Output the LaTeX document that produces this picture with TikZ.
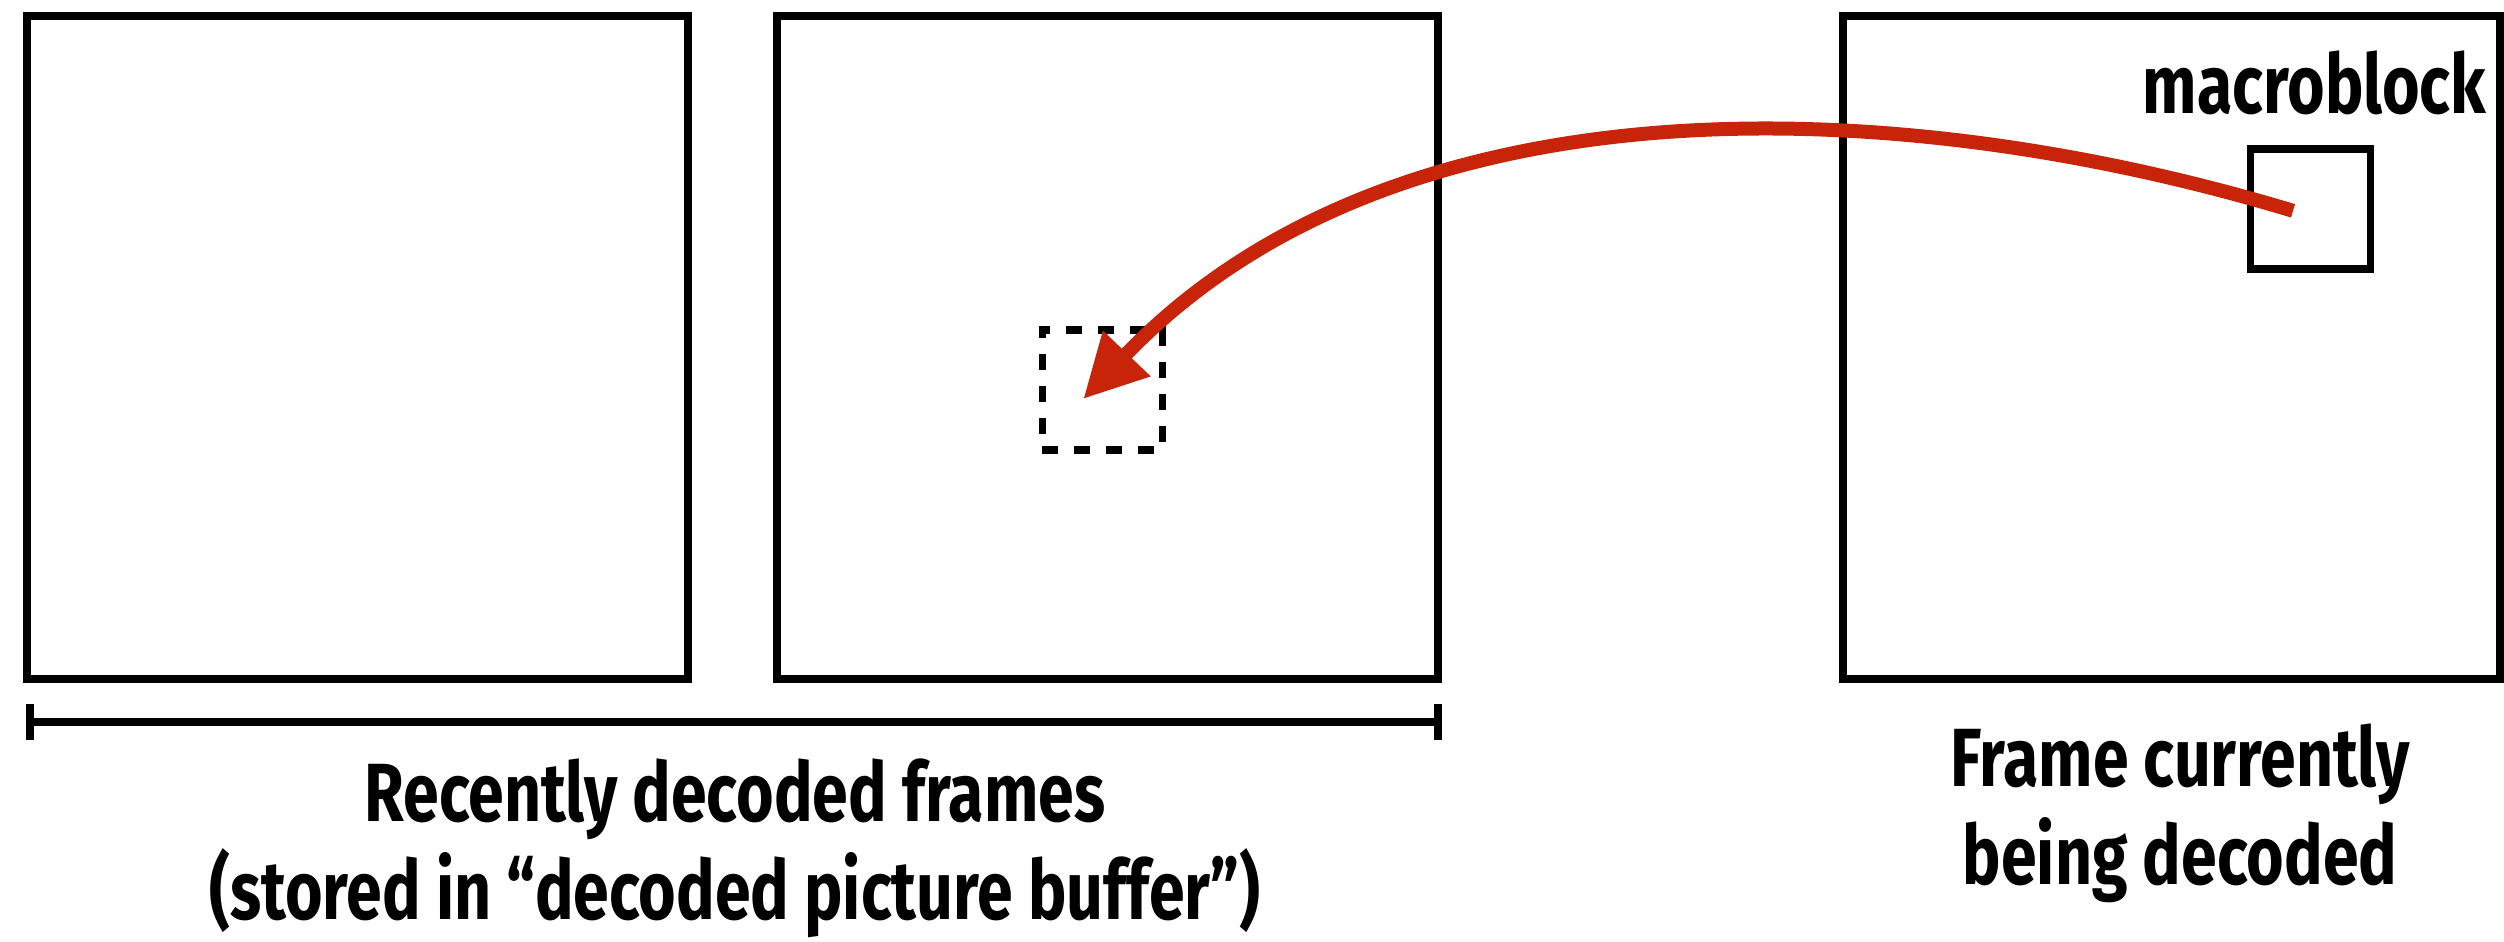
\documentclass[tikz,border=0pt]{standalone}
\usepackage{fontspec}
\setmainfont{Fira Sans}[FakeStretch=0.78]
\usepackage{xcolor}
\definecolor{mvred}{RGB}{200, 36, 10}
\usetikzlibrary{arrows.meta}
\tikzset{
  % Frames
  framebox/.style = {draw, line width=0.08cm, inner sep=0pt,
                     minimum width=6.61cm, minimum height=6.635cm},
  % Blocks
  blockbox/.style = {draw, line width=0.075cm, inner sep=0pt, minimum size=1.2cm},
  refbox/.style   = {blockbox, dash pattern=on 0.16cm off 0.16cm},
  % Arrows and spans
  mvarrow/.style  = {-{Triangle[length=0.63cm, width=0.62cm]}, line width=0.14cm, mvred},
  spanline/.style = {{Bar[width=0.36cm]}-{Bar[width=0.36cm]}, line width=0.08cm},
  % Labels
  lab/.style      = {font=\bfseries\fontsize{23.5}{28}\selectfont, inner sep=0pt, align=center},
}
\begin{document}
\begin{tikzpicture}
  \useasboundingbox (0,0) rectangle (25.04,9.42);
  % Frames
  \node[framebox] (frmA) at (3.57,5.9425) {};
  \node[framebox] (frmB) at (11.07,5.9425) {};
  \node[framebox, minimum width=6.57cm] (frmC) at (21.715,5.9425) {};
  % Blocks
  \node[refbox] (refblk) at (11.0225,5.52) {};
  \node[blockbox] (mblk) at (23.107,7.3315) {};
  \node[lab, anchor=base east] (mblab) at (24.87,8.28) {macroblock};
  % Motion vector
  \coordinate (mvstart) at ([shift={(-0.177,-0.02)}]mblk.center);
  \coordinate (mvend) at ([shift={(-0.19,-0.09)}]refblk.center);
  \draw[mvarrow] (mvstart) .. controls (18.91,8.524) and (13.935,8.67) .. (mvend);
  % Buffer span
  \coordinate (bufL) at (0.257,2.2);
  \coordinate (bufR) at (14.42,2.2);
  \draw[spanline] (bufL) -- (bufR);
  % Captions (anchor = baseline of last line)
  \node[lab, anchor=base] (buftxt) at (7.35,0.22)
    {Recently decoded frames\\(stored in ``decoded picture buffer'')};
  \node[lab, anchor=base] (curtxt) at (21.8,0.57)
    {Frame currently\\being decoded};
\end{tikzpicture}
\end{document}
